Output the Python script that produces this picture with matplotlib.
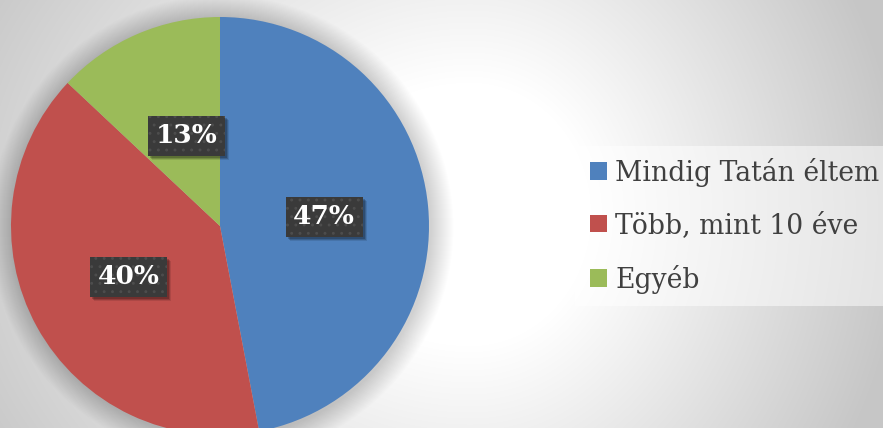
import numpy as np
import matplotlib
matplotlib.use('Agg')
import matplotlib.pyplot as plt
from matplotlib.patches import Rectangle, Circle

categories = ['Mindig Tatán éltem', 'Több, mint 10 éve', 'Egyéb']
values = [47, 40, 13]
colors = ['#4f81bd', '#c0504d', '#9bbb59']

W, H = 883, 428
plt.rcParams['hatch.linewidth'] = 0.9
fig = plt.figure(figsize=(W / 100, H / 100), dpi=100)
ax = fig.add_axes([0, 0, 1, 1])

# background radial gradient
yy, xx = np.mgrid[0:H, 0:W]
cx, cy = 470, 214
rx = np.where(xx > cx, 430.0, 560.0)
ry = 470.0
d = np.sqrt(((xx - cx) / rx) ** 2 + ((yy - cy) / ry) ** 2)
v = 1 - 0.22 * np.clip((d - 0.28) / 0.72, 0, 1)
img = np.dstack([v, v, v])
ax.imshow(img, extent=(0, W, 0, H), origin='upper', zorder=0, aspect='auto')

pcx, pcy, R = 220, H - 226, 209
# soft shadow
for i in range(1, 24):
    ax.add_patch(Circle((pcx + 1.5, pcy - 1.5), R + i, facecolor='black',
                        alpha=0.008, lw=0, zorder=1))

serif = 'DejaVu Serif'
wedges, texts, autotexts = ax.pie(
    values, colors=colors, startangle=90, counterclock=False,
    center=(pcx, pcy), radius=R, autopct='%1.0f%%', pctdistance=0.5,
    wedgeprops=dict(linewidth=0, zorder=3),
    textprops=dict(color='white', fontweight='bold', family=serif, zorder=7))
ax.set_xlim(0, W)
ax.set_ylim(0, H)
ax.set_aspect('auto')
ax.axis('off')

fig.canvas.draw()
r = fig.canvas.get_renderer()
# fit label font size
w0 = autotexts[0].get_window_extent(r).width
fs_lab = autotexts[0].get_fontsize() * 62.0 / w0
for t in autotexts:
    t.set_fontsize(fs_lab)
    t.set_va('center')
    t.set_ha('center')
# Excel nudges the small slice label slightly outward
gx, gy = autotexts[2].get_position()
autotexts[2].set_position((gx + 8, gy - 5))

bw, bh = 77, 40
for t in autotexts:
    x, y = t.get_position()
    y0 = y - 1
    for k, a in [(4, 0.10), (3, 0.16), (2, 0.2)]:
        ax.add_patch(Rectangle((x - bw / 2 + k, y0 - bh / 2 - k), bw, bh,
                               facecolor='black', alpha=a, lw=0, zorder=5))
    ax.add_patch(Rectangle((x - bw / 2, y0 - bh / 2), bw, bh,
                           facecolor='#3a3a3a', edgecolor='#4d4d4d', lw=0,
                           hatch='..', zorder=6))

# legend background
ax.add_patch(Rectangle((575, H - 306), 330, 160, facecolor='white',
                       alpha=0.5, lw=0, zorder=1))

# legend font size fit
tmp = ax.text(0, 0, categories[0], family=serif, fontsize=20)
wt = tmp.get_window_extent(r).width
tmp.remove()
fs_leg = 20 * 263.0 / wt
F = fs_leg * 100 / 72.0


def make_leg(ls):
    return ax.legend(wedges, categories, loc='center left',
                     bbox_to_anchor=(590, H - 225.5), bbox_transform=ax.transData,
                     frameon=False, prop=dict(family=serif, size=fs_leg),
                     handlelength=17 / F, handleheight=17 / F,
                     handletextpad=8 / F, labelspacing=ls, borderpad=0,
                     borderaxespad=0, labelcolor='#404040')


leg = make_leg(0.5)
fig.canvas.draw()
ys = [t.get_window_extent(r).y0 for t in leg.get_texts()]
pitch = (ys[0] - ys[2]) / 2
ls = 0.5 + (53.5 - pitch) / F
leg.remove()
leg = make_leg(ls)
leg.set_zorder(8)

fig.savefig('out.png', dpi=100)
